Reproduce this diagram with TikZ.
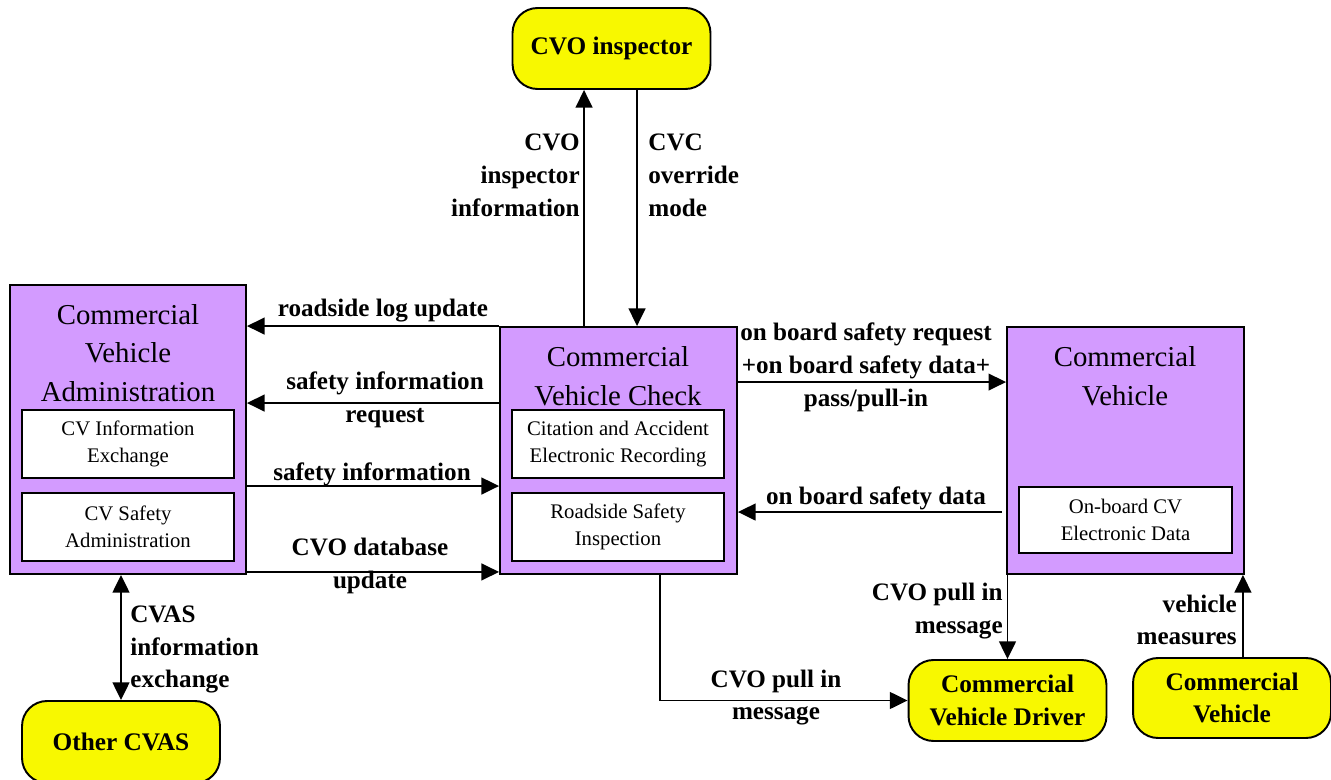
\documentclass[tikz,border=0pt]{standalone}
\usepackage{fontspec}
\setmainfont{Liberation Serif}
\usetikzlibrary{arrows.meta}
\definecolor{Cvpurple}{HTML}{D39BFF}
\definecolor{Cvyellow}{HTML}{F8F800}

\begin{document}
\begin{tikzpicture}[x=0.02cm,y=-0.02cm,
		unit/.style={draw,line width=1.1pt,fill=Cvpurple,inner sep=0pt},
		part/.style={draw,line width=1.1pt,fill=white,align=center,inner sep=0pt,
				minimum width=4.24cm,minimum height=1.36cm,
				font=\fontsize{11.8}{15.3}\selectfont},
		title/.style={align=center,inner sep=0pt,font=\fontsize{16.4}{22}\selectfont},
		actor/.style={draw,line width=1.1pt,fill=Cvyellow,rounded corners=0.5cm,
				align=center,inner sep=0pt,minimum width=3.96cm,
				font=\bfseries\fontsize{14.4}{18.5}\selectfont},
		flow/.style={-{Triangle[length=10pt,width=9.5pt]},line width=1.1pt},
		dflow/.style={{Triangle[length=10pt,width=9.5pt]}-{Triangle[length=10pt,width=9.5pt]},line width=1.1pt},
		lbl/.style={font=\bfseries\fontsize{14.3}{18.7}\selectfont,inner sep=0pt}]
	\useasboundingbox (0,0) rectangle (1331,780);
	% main units
	\node[unit,minimum width=4.72cm,minimum height=5.78cm] (cva) at (128,429.5) {};
	\node[unit,minimum width=4.74cm,minimum height=4.94cm] (cvc) at (618.5,450.5) {};
	\node[unit,minimum width=4.74cm,minimum height=4.94cm] (cv) at (1125.5,450.5) {};
	\node[title] (cvat) at (128,353) {Commercial\\Vehicle\\Administration};
	\node[title] (cvct) at (618,376) {Commercial\\Vehicle Check};
	\node[title] (cvt) at (1125,376) {Commercial\\Vehicle};
	\node[part] (cvie) at (128,444) {CV Information\\Exchange};
	\node[part] (cvsa) at (128,527) {CV Safety\\Administration};
	\node[part] (caer) at (618,444) {Citation and Accident\\Electronic Recording};
	\node[part] (rssi) at (618,527) {Roadside Safety\\Inspection};
	\node[part,minimum width=4.26cm,minimum height=1.32cm] (obed) at (1125.5,520) {On-board CV\\Electronic Data};
	% terminators
	\node[actor,minimum height=1.62cm] (insp) at (611.5,48.5) {CVO inspector};
	\node[actor,minimum height=1.64cm] (cvas) at (121,742) {Other CVAS};
	\node[actor,minimum height=1.62cm] (drv) at (1007.5,700.5) {Commercial\\Vehicle Driver};
	\node[actor,minimum height=1.6cm] (veh) at (1232,698) {Commercial\\Vehicle};
	% flows
	\draw[flow] (cvc.north west) -- (cvc.north west -| cva.east);
	\draw[flow] ([yshift=-1.54cm]cvc.north west) coordinate (sir) -- (sir -| cva.east);
	\draw[flow] ([yshift=-4.04cm]cva.north east) coordinate (si) -- (si -| cvc.west);
	\draw[flow] ([yshift=0.06cm]cva.south east) coordinate (dbu) -- (dbu -| cvc.west);
	\draw[flow] ([xshift=1.7cm]cvc.north west) coordinate (ii) -- (ii |- insp.south);
	\draw[flow] ([xshift=2.76cm]cvc.north west) coordinate (om) ++(0,-237) -- (om);
	\draw[flow] ([yshift=-1.12cm]cvc.north east) coordinate (obr) -- (obr -| cv.west);
	\draw[flow] ([yshift=-3.72cm,xshift=-0.08cm]cv.north west) coordinate (obd) -- (obd -| cvc.east);
	\draw[flow] ([xshift=3.22cm]cvc.south west) |- (drv.west);
	\draw[flow] (drv.north |- cv.south) -- (drv.north);
	\draw[flow] ([xshift=-0.04cm]cv.south east) coordinate (vm) ++(0,84) -- (vm);
	\draw[dflow] (cvas.north) -- (cvas.north |- cva.south);
	% flow labels
	\node[lbl] (l1) at (383,311) {roadside log update};
	\node[lbl,align=center] (l2) at (385,399.5) {safety information\\request};
	\node[lbl] (l3) at (372,474) {safety information};
	\node[lbl,align=center] (l4) at (370,566) {CVO database\\update};
	\node[lbl,align=right,anchor=east] (l5) at (580,175) {CVO\\inspector\\information};
	\node[lbl,align=left,anchor=west] (l6) at (648,175) {CVC\\override\\mode};
	\node[lbl,align=center] (l7) at (866,367.5) {on board safety request\\+on board safety data+\\pass/pull-in};
	\node[lbl] (l8) at (876,498) {on board safety data};
	\node[lbl,align=right,anchor=east] (l9) at (1003,611) {CVO pull in\\message};
	\node[lbl,align=right,anchor=east] (l10) at (1237,620) {vehicle\\measures};
	\node[lbl,align=center] (l11) at (776,697.5) {CVO pull in\\message};
	\node[lbl,align=left,anchor=west] (l12) at (130,649.5) {CVAS\\information\\exchange};
\end{tikzpicture}
\end{document}
